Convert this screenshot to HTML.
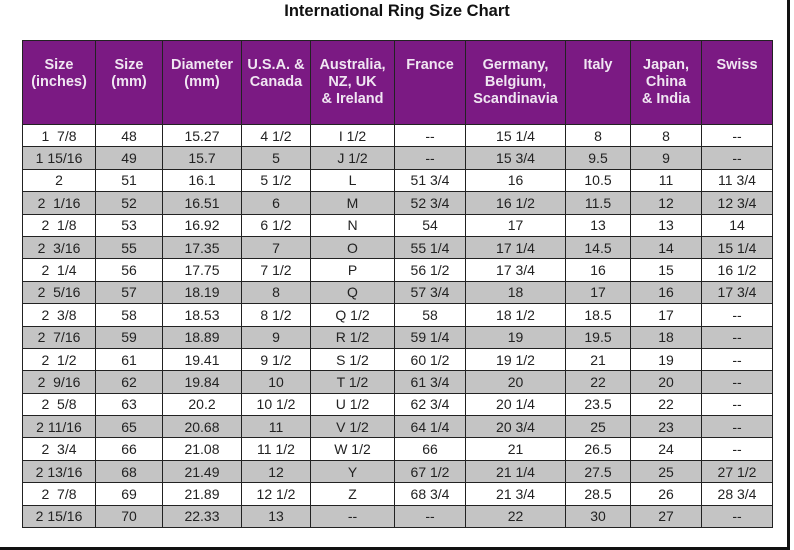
<!DOCTYPE html>
<html><head><style>
body{margin:0;width:794px;height:550px;background:#fff;position:relative;overflow:hidden;font-family:"Liberation Sans",Arial,sans-serif}
h1{position:absolute;top:1px;left:0;width:794px;margin:0;text-align:center;font-size:16.5px;font-weight:bold;line-height:20px;color:#111}
table{position:absolute;left:22px;top:40px;border-collapse:collapse;table-layout:fixed;width:750px}
td,th{border:1px solid #222;text-align:center;padding:0;font-size:14px;color:#222}
th{background:#7b1a83;color:#f0e6f2;height:84px;vertical-align:top;padding-top:16px;box-sizing:border-box;font-weight:bold;font-size:14.5px;line-height:17px}
td{height:21.4px;line-height:20px}
tr.g td{background:#c4c4c4}
.fr{position:absolute;right:4px;top:0;width:3px;height:550px;background:#111}
.fb{position:absolute;left:0;bottom:0;width:790px;height:3px;background:#111}
</style></head><body>
<h1>International Ring Size Chart</h1>
<table>
<colgroup><col style="width:73px"><col style="width:67px"><col style="width:79px"><col style="width:69px"><col style="width:84px"><col style="width:71px"><col style="width:100px"><col style="width:65px"><col style="width:71px"><col style="width:71px"></colgroup>
<tr><th>Size<br>(inches)</th><th>Size<br>(mm)</th><th>Diameter<br>(mm)</th><th>U.S.A. &amp;<br>Canada</th><th>Australia,<br>NZ, UK<br>&amp; Ireland</th><th>France</th><th>Germany,<br>Belgium,<br>Scandinavia</th><th>Italy</th><th>Japan,<br>China<br>&amp; India</th><th>Swiss</th></tr>
<tr><td>1&nbsp; 7/8</td><td>48</td><td>15.27</td><td>4 1/2</td><td>I 1/2</td><td>--</td><td>15 1/4</td><td>8</td><td>8</td><td>--</td></tr>
<tr class="g"><td>1 15/16</td><td>49</td><td>15.7</td><td>5</td><td>J 1/2</td><td>--</td><td>15 3/4</td><td>9.5</td><td>9</td><td>--</td></tr>
<tr><td>2</td><td>51</td><td>16.1</td><td>5 1/2</td><td>L</td><td>51 3/4</td><td>16</td><td>10.5</td><td>11</td><td>11 3/4</td></tr>
<tr class="g"><td>2&nbsp; 1/16</td><td>52</td><td>16.51</td><td>6</td><td>M</td><td>52 3/4</td><td>16 1/2</td><td>11.5</td><td>12</td><td>12 3/4</td></tr>
<tr><td>2&nbsp; 1/8</td><td>53</td><td>16.92</td><td>6 1/2</td><td>N</td><td>54</td><td>17</td><td>13</td><td>13</td><td>14</td></tr>
<tr class="g"><td>2&nbsp; 3/16</td><td>55</td><td>17.35</td><td>7</td><td>O</td><td>55 1/4</td><td>17 1/4</td><td>14.5</td><td>14</td><td>15 1/4</td></tr>
<tr><td>2&nbsp; 1/4</td><td>56</td><td>17.75</td><td>7 1/2</td><td>P</td><td>56 1/2</td><td>17 3/4</td><td>16</td><td>15</td><td>16 1/2</td></tr>
<tr class="g"><td>2&nbsp; 5/16</td><td>57</td><td>18.19</td><td>8</td><td>Q</td><td>57 3/4</td><td>18</td><td>17</td><td>16</td><td>17 3/4</td></tr>
<tr><td>2&nbsp; 3/8</td><td>58</td><td>18.53</td><td>8 1/2</td><td>Q 1/2</td><td>58</td><td>18 1/2</td><td>18.5</td><td>17</td><td>--</td></tr>
<tr class="g"><td>2&nbsp; 7/16</td><td>59</td><td>18.89</td><td>9</td><td>R 1/2</td><td>59 1/4</td><td>19</td><td>19.5</td><td>18</td><td>--</td></tr>
<tr><td>2&nbsp; 1/2</td><td>61</td><td>19.41</td><td>9 1/2</td><td>S 1/2</td><td>60 1/2</td><td>19 1/2</td><td>21</td><td>19</td><td>--</td></tr>
<tr class="g"><td>2&nbsp; 9/16</td><td>62</td><td>19.84</td><td>10</td><td>T 1/2</td><td>61 3/4</td><td>20</td><td>22</td><td>20</td><td>--</td></tr>
<tr><td>2&nbsp; 5/8</td><td>63</td><td>20.2</td><td>10 1/2</td><td>U 1/2</td><td>62 3/4</td><td>20 1/4</td><td>23.5</td><td>22</td><td>--</td></tr>
<tr class="g"><td>2 11/16</td><td>65</td><td>20.68</td><td>11</td><td>V 1/2</td><td>64 1/4</td><td>20 3/4</td><td>25</td><td>23</td><td>--</td></tr>
<tr><td>2&nbsp; 3/4</td><td>66</td><td>21.08</td><td>11 1/2</td><td>W 1/2</td><td>66</td><td>21</td><td>26.5</td><td>24</td><td>--</td></tr>
<tr class="g"><td>2 13/16</td><td>68</td><td>21.49</td><td>12</td><td>Y</td><td>67 1/2</td><td>21 1/4</td><td>27.5</td><td>25</td><td>27 1/2</td></tr>
<tr><td>2&nbsp; 7/8</td><td>69</td><td>21.89</td><td>12 1/2</td><td>Z</td><td>68 3/4</td><td>21 3/4</td><td>28.5</td><td>26</td><td>28 3/4</td></tr>
<tr class="g"><td>2 15/16</td><td>70</td><td>22.33</td><td>13</td><td>--</td><td>--</td><td>22</td><td>30</td><td>27</td><td>--</td></tr>
</table>
<div class="fr"></div><div class="fb"></div>
</body></html>
